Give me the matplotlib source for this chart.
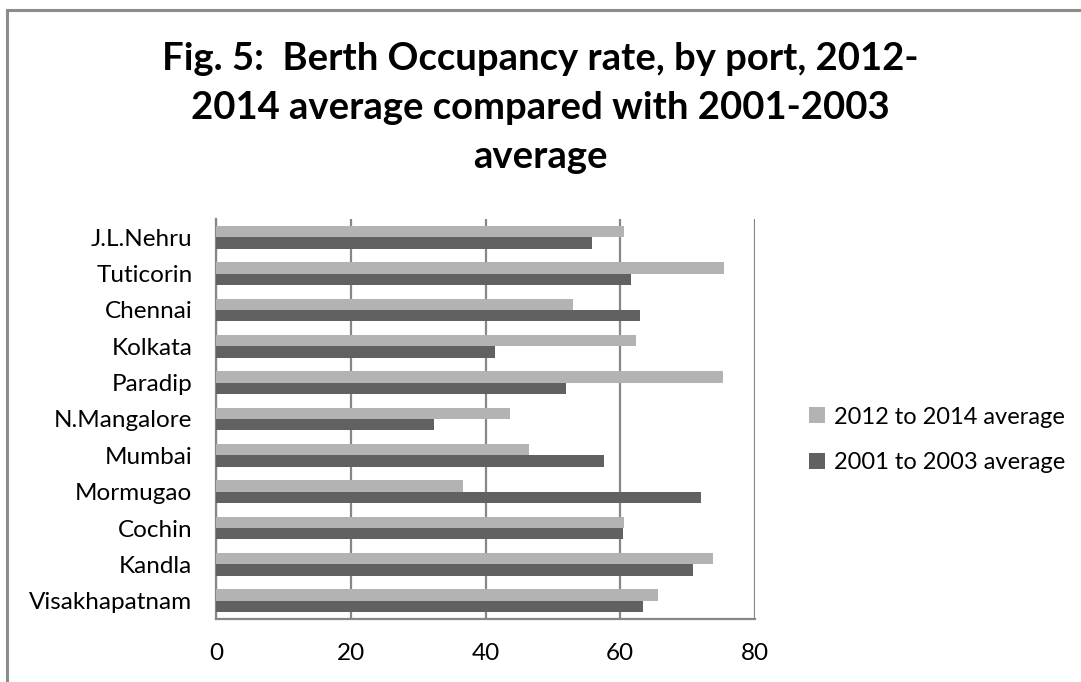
import matplotlib
matplotlib.use("Agg")
import matplotlib.pyplot as plt
import numpy as np

ports = ["Visakhapatnam", "Kandla", "Cochin", "Mormugao", "Mumbai",
         "N.Mangalore", "Paradip", "Kolkata", "Chennai", "Tuticorin", "J.L.Nehru"]
avg_2012_2014 = [65.6, 73.7, 60.6, 36.7, 46.5, 43.6, 75.2, 62.3, 53.0, 75.4, 60.6]
avg_2001_2003 = [63.4, 70.8, 60.4, 72.0, 57.6, 32.4, 51.9, 41.4, 63.0, 61.6, 55.8]
series_labels = ["2012 to 2014 average", "2001 to 2003 average"]
x_ticks = [0, 20, 40, 60, 80]
title = "Fig. 5:  Berth Occupancy rate, by port, 2012-\n2014 average compared with 2001-2003\naverage"

plt.rcParams["font.family"] = ["Lato", "DejaVu Sans"]

W, H = 1081, 682
fig = plt.figure(figsize=(W / 100, H / 100), dpi=100)

# outer chart border
fig.add_artist(plt.Line2D([7 / W, 7 / W], [0, 1 - 10 / H], color="#8c8c8c", lw=2.2))
fig.add_artist(plt.Line2D([7 / W, 1], [1 - 10 / H, 1 - 10 / H], color="#8c8c8c", lw=2.2))

left, right, top, bottom = 216, 755, 219, 619
ax = fig.add_axes([left / W, 1 - bottom / H, (right - left) / W, (bottom - top) / H])

y = np.arange(len(ports))
h = 0.3125
ax.barh(y + h / 2, avg_2012_2014, height=h, color="#b3b3b3", label=series_labels[0], zorder=3)
ax.barh(y - h / 2, avg_2001_2003, height=h, color="#616161", label=series_labels[1], zorder=3)

ax.set_xlim(0, 80)
ax.set_ylim(-0.5, len(ports) - 0.5)
ax.set_xticks(x_ticks)
ax.set_xticklabels([str(t) for t in x_ticks], fontsize=17.5)
ax.set_yticks(y)
ax.set_yticklabels(ports, fontsize=17.5)
ax.tick_params(length=0)
ax.tick_params(axis="x", pad=17)
ax.tick_params(axis="y", pad=17)
ax.xaxis.grid(True, color="#878787", lw=1.6, zorder=1)

for s in ["top", "right"]:
    ax.spines[s].set_visible(False)
ax.spines["left"].set_color("#878787")
ax.spines["left"].set_linewidth(1.6)
ax.spines["bottom"].set_color("#878787")
ax.spines["bottom"].set_linewidth(1.6)

fig.text(0.5, 1 - 108 / H, title, ha="center", va="center", fontsize=27.5,
         fontweight="bold", linespacing=1.55)

handles, labels = ax.get_legend_handles_labels()
fig.legend(handles, labels, loc="center left", bbox_to_anchor=(788 / W, 1 - 440 / H),
           frameon=False, fontsize=17, handlelength=0.65, handleheight=0.65,
           handletextpad=0.4, labelspacing=1.05)

fig.savefig("out.png", dpi=100)
